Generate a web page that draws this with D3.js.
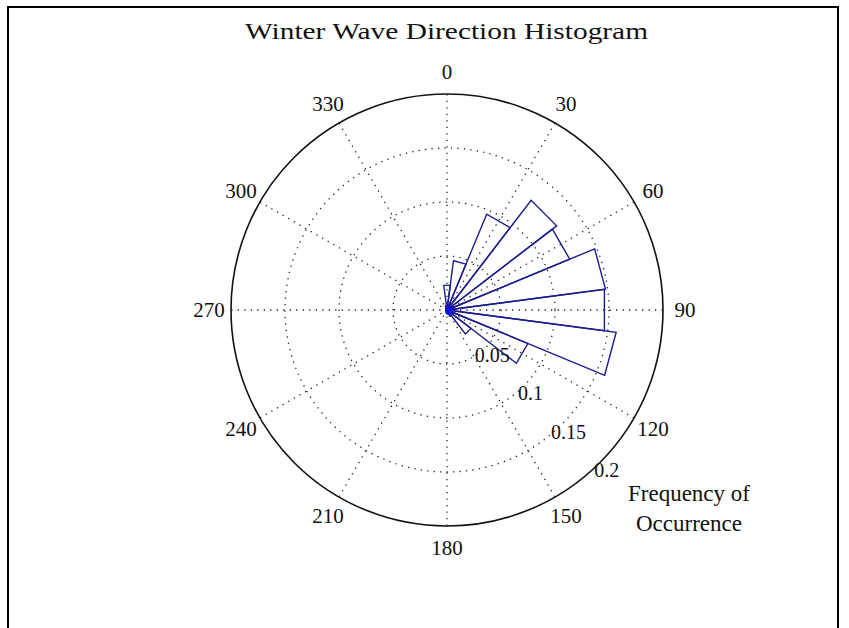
<!DOCTYPE html>
<html>
<head>
<meta charset="utf-8">
<script src="https://cdn.jsdelivr.net/npm/d3@7"></script>
<style>
  html, body { margin: 0; padding: 0; background: #fff; }
  svg { display: block; }
  text { font-family: "Liberation Serif", "Times New Roman", serif; fill: #111; }
</style>
</head>
<body>
<svg id="chart" width="849" height="628"></svg>
<script>
// Direction bins (degrees, clockwise from north) and frequency of occurrence
const binCenters = [0, 15, 30, 45, 60, 75, 90, 105, 120, 135, 150, 165,
                    180, 195, 210, 225, 240, 255, 270, 285, 300, 315, 330, 345];
const frequency  = [0.023, 0.046, 0.096, 0.128, 0.123, 0.148, 0.147, 0.158, 0.081, 0.028, 0.006, 0.003,
                    0.002, 0.001, 0.001, 0.001, 0.001, 0.001, 0.001, 0.001, 0.001, 0.001, 0.002, 0.004];
const binWidth = 15;

const angleTicks = [0, 30, 60, 90, 120, 150, 180, 210, 240, 270, 300, 330];
const ringTicks = [0.05, 0.1, 0.15, 0.2];
const ringLabels = ["0.05", "0.1", "0.15", "0.2"];

const titleText = "Winter Wave Direction Histogram";
const axisTitle = ["Frequency of", "Occurrence"];

const svg = d3.select("#chart");
const cx = 447, cy = 310, R = 216;

// frame around the figure
svg.append("rect")
  .attr("x", 8).attr("y", 7)
  .attr("width", 830).attr("height", 660)
  .attr("fill", "none").attr("stroke", "#000").attr("stroke-width", 2);

const r = d3.scaleLinear().domain([0, 0.2]).range([0, R]);
const ang = d3.scaleLinear().domain([0, 360]).range([0, 2 * Math.PI]);
// compass convention: 0 at top, increasing clockwise
const px = (deg, v) => cx + r(v) * Math.sin(ang(deg));
const py = (deg, v) => cy - r(v) * Math.cos(ang(deg));

const g = svg.append("g");

// dotted range rings
g.selectAll("circle.ring")
  .data(ringTicks.slice(0, -1))
  .join("circle")
  .attr("class", "ring")
  .attr("cx", cx).attr("cy", cy)
  .attr("r", d => r(d))
  .attr("fill", "none")
  .attr("stroke", "#222")
  .attr("stroke-width", 1.3)
  .attr("stroke-dasharray", "1.3,5.2");

// dotted spokes every 30 degrees
g.selectAll("line.spoke")
  .data(angleTicks)
  .join("line")
  .attr("class", "spoke")
  .attr("x1", cx).attr("y1", cy)
  .attr("x2", d => px(d, 0.2)).attr("y2", d => py(d, 0.2))
  .attr("stroke", "#222")
  .attr("stroke-width", 1.3)
  .attr("stroke-dasharray", "1.3,5.2");

// outer solid circle
g.append("circle")
  .attr("cx", cx).attr("cy", cy).attr("r", r(0.2))
  .attr("fill", "none").attr("stroke", "#111").attr("stroke-width", 1.6);

// rose wedges: centre -> edge at bin start -> edge at bin end -> centre
const bins = binCenters.map((c, i) => ({ c, v: frequency[i] }));
const line = d3.line();
g.selectAll("path.wedge")
  .data(bins)
  .join("path")
  .attr("class", "wedge")
  .attr("d", d => {
    const a0 = d.c - binWidth / 2, a1 = d.c + binWidth / 2;
    return line([[cx, cy], [px(a0, d.v), py(a0, d.v)], [px(a1, d.v), py(a1, d.v)], [cx, cy]]);
  })
  .attr("fill", "none")
  .attr("stroke", "#1c1c8e")
  .attr("stroke-width", 1.4)
  .attr("stroke-linejoin", "miter");

// bright hub where the wedge edges converge
g.append("circle")
  .attr("cx", cx + 2).attr("cy", cy + 1).attr("r", 4)
  .attr("fill", "#1010e0");

// angle labels
g.selectAll("text.angle")
  .data(angleTicks)
  .join("text")
  .attr("class", "angle")
  .attr("x", d => px(d, 0.2 * 238 / R))
  .attr("y", d => py(d, 0.2 * 238 / R))
  .attr("text-anchor", "middle")
  .attr("dominant-baseline", "central")
  .attr("font-size", 21)
  .text(d => d);

// ring value labels along the 135 degree direction
g.selectAll("text.ringlab")
  .data(ringTicks)
  .join("text")
  .attr("class", "ringlab")
  .attr("x", (d, i) => cx + (r(d) + 10) * Math.sin(ang(135)))
  .attr("y", (d, i) => cy - (r(d) + 10) * Math.cos(ang(135)))
  .attr("text-anchor", "middle")
  .attr("dominant-baseline", "central")
  .attr("font-size", 20)
  .text((d, i) => ringLabels[i]);

// title
svg.append("text")
  .attr("x", 446.5).attr("y", 39)
  .attr("text-anchor", "middle")
  .attr("font-size", 24)
  .attr("textLength", 403)
  .attr("lengthAdjust", "spacingAndGlyphs")
  .text(titleText);

// radial axis title
svg.selectAll("text.atitle")
  .data(axisTitle)
  .join("text")
  .attr("class", "atitle")
  .attr("x", 689)
  .attr("y", (d, i) => 501 + i * 30)
  .attr("text-anchor", "middle")
  .attr("font-size", 23)
  .text(d => d);
</script>
</body>
</html>
